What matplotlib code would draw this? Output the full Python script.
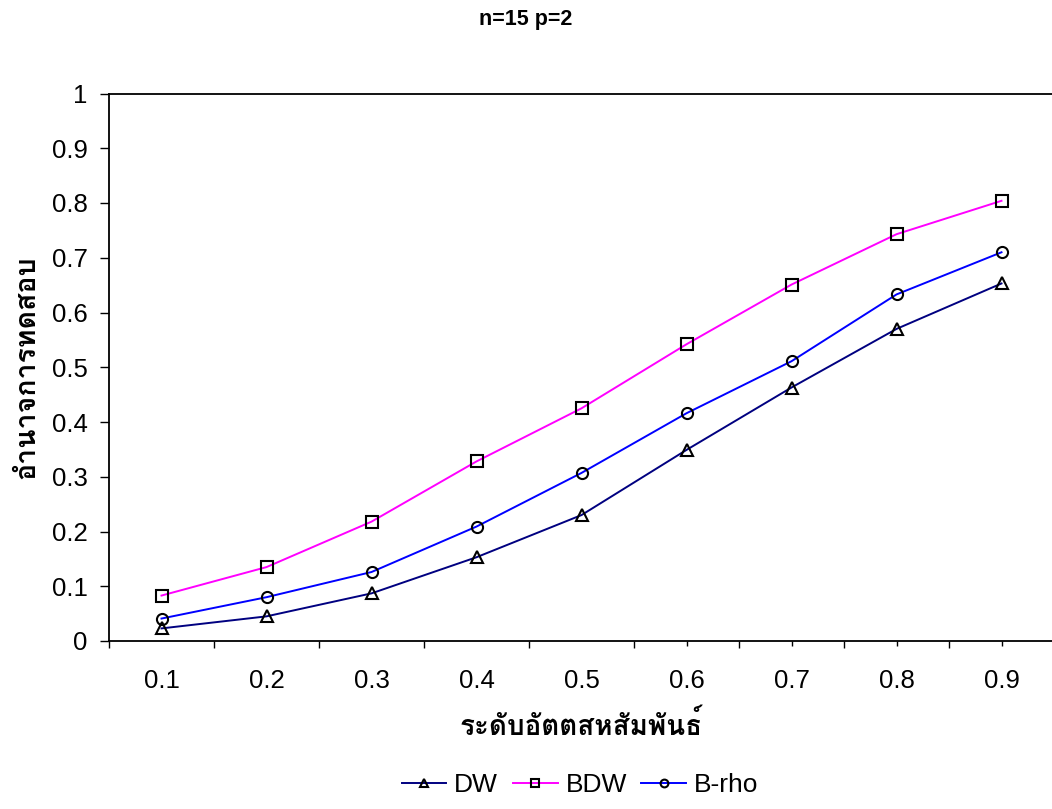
import matplotlib
matplotlib.use('Agg')
import matplotlib.pyplot as plt
from matplotlib import font_manager
from matplotlib.ft2font import FT2Font
import numpy as np

# data
rho = ['0.1', '0.2', '0.3', '0.4', '0.5', '0.6', '0.7', '0.8', '0.9']
dw = [0.023, 0.045, 0.087, 0.153, 0.230, 0.349, 0.463, 0.570, 0.653]
bdw = [0.083, 0.135, 0.218, 0.328, 0.425, 0.542, 0.651, 0.743, 0.804]
brho = [0.041, 0.080, 0.126, 0.209, 0.307, 0.416, 0.511, 0.633, 0.710]
yticks = [0, 0.1, 0.2, 0.3, 0.4, 0.5, 0.6, 0.7, 0.8, 0.9, 1]
ylabels = ['0', '0.1', '0.2', '0.3', '0.4', '0.5', '0.6', '0.7', '0.8', '0.9', '1']


def thai_family():
    # look for any installed font that has Thai glyphs
    for f in font_manager.fontManager.ttflist:
        try:
            if 0x0E2D in FT2Font(f.fname).get_charmap():
                return f.name
        except Exception:
            pass
    return 'DejaVu Sans'


thai = thai_family()
plt.rcParams['font.family'] = ['Liberation Sans', 'DejaVu Sans']

fig = plt.figure(figsize=(10.52, 8.09), dpi=100)
W, H = 1052, 809
ax = fig.add_axes([109 / W, 1 - 641 / H, (1054 - 109) / W, (641 - 93.5) / H])

x = np.arange(len(rho)) + 0.5
ax.plot(x, dw, '-^', color='#000080', lw=1.4, ms=8.5, mfc='none', mec='black',
        mew=1.5, label='DW')
ax.plot(x, bdw, '-s', color='#ff00ff', lw=1.4, ms=8, mfc='none', mec='black',
        mew=1.5, label='BDW')
ax.plot(x, brho, '-o', color='#0000ff', lw=1.4, ms=8, mfc='none', mec='black',
        mew=1.5, label='B-rho')

ax.set_xlim(0, len(rho))
ax.set_ylim(0, 1)
ax.set_yticks(yticks)
ax.set_yticklabels(ylabels, fontsize=18.5)
ax.set_xticks(x)
ax.set_xticklabels(rho, fontsize=18.5)
ax.set_xticks(np.arange(len(rho) + 1), minor=True)
ax.tick_params(axis='y', direction='out', length=6.5, width=1, pad=9)
ax.tick_params(axis='x', which='major', direction='out', length=3.8, width=1, pad=16)
ax.tick_params(axis='x', which='minor', direction='out', length=5, width=1)
for i, t in enumerate(ax.xaxis.get_major_ticks()):
    if i < 5:
        t.tick1line.set_visible(False)
for s in ax.spines.values():
    s.set_linewidth(1.3)

ax.set_ylabel('อำนาจการทดสอบ', family=[thai, 'DejaVu Sans'], fontsize=20.5,
              fontweight='bold', labelpad=9)
ax.set_xlabel('ระดับอัตตสหสัมพันธ์', family=[thai, 'DejaVu Sans'], fontsize=20,
              fontweight='bold', labelpad=12)
fig.text(526 / W, 1 - 20 / H, 'n=15 p=2', ha='center', va='center',
         fontsize=15.5, fontweight='bold')

fig.legend(loc='center', bbox_to_anchor=(580 / W, 1 - 785 / H), ncol=3,
           frameon=False, fontsize=19, handlelength=1.7, handletextpad=0.3,
           columnspacing=0.55, markerscale=0.7)

fig.savefig('out.png', dpi=100)
